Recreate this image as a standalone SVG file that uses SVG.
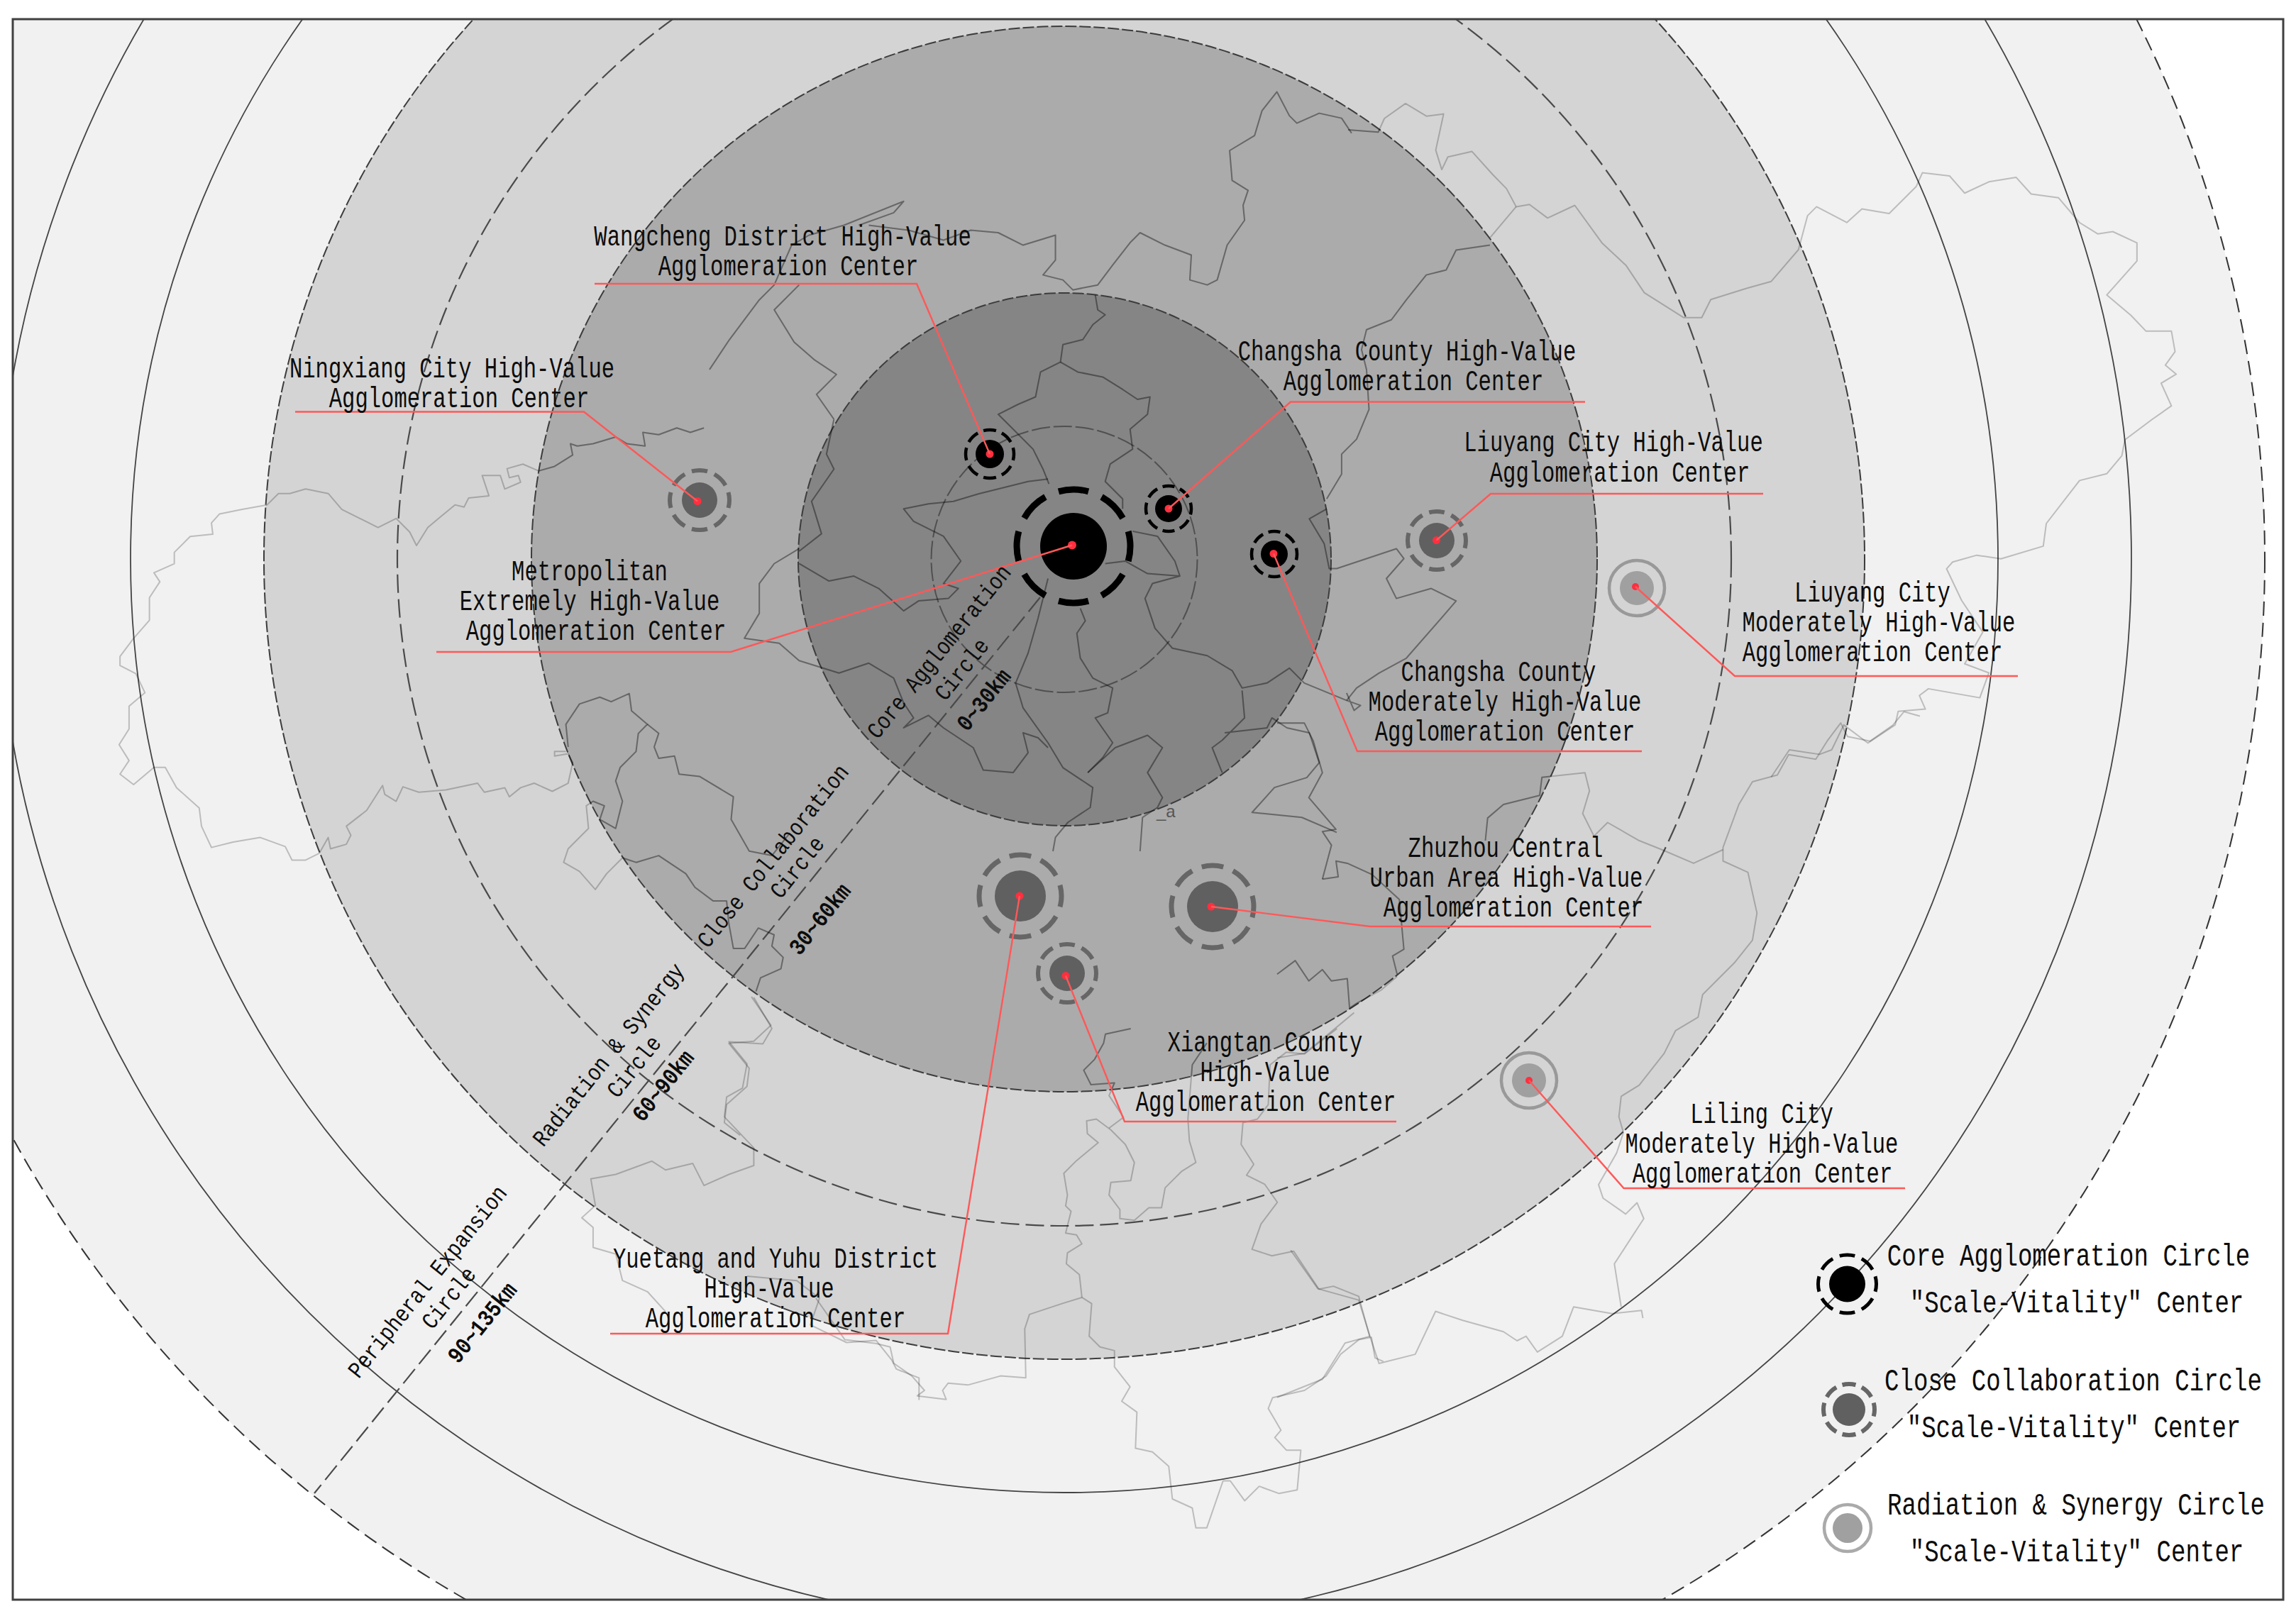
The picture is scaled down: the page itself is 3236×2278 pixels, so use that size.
<svg xmlns="http://www.w3.org/2000/svg" xmlns:xlink="http://www.w3.org/1999/xlink" width="3236" height="2278" viewBox="0 0 3236 2278">
<style>
.edge{stroke:#3c3c3c;stroke-width:2;stroke-dasharray:16 4}
.dash{fill:none;stroke:#4a4a4a;stroke-width:2.2;stroke-dasharray:26 9}
.solid{fill:none;stroke:#444;stroke-width:1.8}
.m{fill:none;stroke:#000;stroke-opacity:.22;stroke-width:2;stroke-linejoin:round;vector-effect:non-scaling-stroke}
.lead{fill:none;stroke:#ff5858;stroke-width:2.4;stroke-linejoin:miter}
.dot{fill:#ff2f3f}
.ring{fill:none;stroke-dashoffset:4.25;stroke-dasharray:8.5 4}
.t{font-family:"Liberation Mono","DejaVu Sans Mono",monospace;font-size:41px;fill:#0c0c0c;text-anchor:middle}
.l{font-family:"Liberation Mono","DejaVu Sans Mono",monospace;font-size:44px;fill:#0c0c0c;text-anchor:middle}
.r{font-family:"Liberation Mono","DejaVu Sans Mono",monospace;font-size:33px;fill:#0c0c0c;text-anchor:middle}
.b{font-weight:bold}
</style>
<defs>
<clipPath id="fr"><rect x="18" y="27" width="3200" height="2228"/></clipPath>
<clipPath id="inner"><circle cx="1500" cy="788" r="751"/></clipPath>
</defs>
<rect width="3236" height="2278" fill="#fff"/>
<g id="rings" clip-path="url(#fr)">
<circle cx="1500" cy="788" r="1692" fill="#f1f1f1" stroke="#333" stroke-width="2" stroke-dasharray="20 10"/>
<circle class="solid" cx="1500" cy="788" r="1504"/>
<circle class="solid" cx="1500" cy="788" r="1316"/>
<circle class="edge" cx="1500" cy="788" r="1128" fill="#d4d4d4"/>
<circle class="dash" cx="1500" cy="788" r="940"/>
<circle class="edge" cx="1500" cy="788" r="751" fill="#ababab"/>
<circle class="edge" cx="1500.500" cy="788.500" r="375.500" fill="#858585"/>
<circle cx="1500" cy="788.500" r="187.500" fill="none" stroke="#505050" stroke-width="2" stroke-dasharray="26 5"/>
<line x1="1466" y1="842" x2="443" y2="2105" stroke="#4a4a4a" stroke-width="2.200" stroke-dasharray="26 9"/>
</g>
<g id="map">
<g transform="translate(1000,100) scale(.7015)">
<path class="m" d="M1290 125L1270 95 1225 85 1180 105 1165 90 1140 42 1110 80 1095 130 1045 160 1050 220 1082 240 1072 270 1075 300 1040 350 1020 420 1000 430 965 420 968 370 915 350 865 325 845 345 810 390 780 430 730 440 710 420 670 410 695 380 695 330 630 350 580 325 525 320 470 340 400 320 320 310"/>
<path class="m" d="M0 600L40 540 100 460 130 430 165 350 200 330 270 310 390 262 370 285 300 310"/>
<path class="m" d="M775 450L780 480 795 490 770 510 750 540 710 550 705 585 665 605 655 655 620 670 580 690 610 720 650 760 670 800 682 830"/>
<path class="m" d="M705 585L740 605 790 615 830 640 860 660 885 655 880 690 845 720 850 760 805 790 795 825 830 860 830 880"/>
<path class="m" d="M680 820L640 825 600 835 540 850 490 865 440 870 390 880 410 905 470 935 505 985 470 1030 500 1040 480 1060 420 1065 390 1085 340 1040 290 1015 240 1025 180 990"/>
<path class="m" d="M680 1020L660 1100 640 1170 615 1230 630 1280 680 1350 710 1400 770 1440 765 1480 720 1510 695 1540 690 1568"/>
<path class="m" d="M745 1080L755 1105 738 1130 745 1180 770 1220 810 1240 800 1290 775 1300 810 1350 790 1380 760 1410"/>
<path class="m" d="M850 925L900 935 935 985 945 1015 880 1010 835 985 795 990M945 1015L890 1030 875 1060 895 1120 930 1160 1000 1175 1050 1205 1070 1240 1120 1230 1165 1200 1195 1230 1280 1265 1308 1275 1295 1285 1280 1250"/>
<path class="m" d="M1070 1245L1075 1300 1050 1325 1030 1345 1010 1360 1030 1410M1035 1330L1120 1320 1130 1300 1160 1320 1205 1330 1225 1390 1200 1420 1135 1440 1090 1490 1190 1500 1260 1530"/>
<path class="m" d="M760 1410L815 1360 880 1335 910 1360 880 1410 910 1460 900 1480 870 1500 865 1568"/>
<path class="m" d="M180 960L130 990 100 1030 100 1090 70 1140 140 1150 180 1185 260 1210 320 1190 370 1220 390 1270 410 1300 390 1320 440 1295 470 1320 500 1340 530 1360 550 1405 610 1410 640 1370 630 1330 660 1340 680 1360"/>
<path class="m" d="M250 700L235 770 250 800 205 865 225 930 180 965M250 700L215 650 255 610 210 580 170 545 130 480 180 430"/>
<path class="m" d="M1568 350L1500 360 1480 400 1440 410 1400 460 1370 500 1320 520 1310 560 1320 600 1325 680 1300 740 1270 770 1270 810 1240 860M1240 880L1205 900 1235 950 1245 1000 1260 1000 1320 980 1380 960 1395 980 1360 1020 1380 1060 1450 1040 1500 1065 1470 1100 1400 1180 1345 1210 1300 1240 1280 1265"/>
</g>
<g transform="translate(150,600) scale(.638)">
<path class="m" d="M1320 5L1290 15 1260 5 1220 20 1185 15 1190 45 1150 40 1125 25 1075 40 1040 45 1025 40 1030 65 990 90 955 100 920 85 885 95 890 115 910 110 915 125 880 140 870 110 830 110 845 155 800 160 790 180 770 175 740 200 710 225 685 265 670 235 640 205 600 225 560 205 520 185 490 150 440 140 405 150 380 150 355 175 300 185 250 195 232 215 235 240 185 245 150 280 150 305 105 325 118 345 95 380 95 430 60 470 30 510 30 530 65 548 85 590 50 620 50 670 28 705 50 740 30 770 60 793 105 755 130 755 155 800 205 845 210 885 232 932 280 920 340 910 395 930 410 960 440 960 470 945 490 910 495 935 530 925 540 905 530 885 575 850 610 795 615 815 640 830 655 798 690 810 750 805 820 790 835 810 880 800 890 820 915 800 945 790 985 808 1020 790 1030 745 1020 725 990 730 990 720 1015 720"/>
<path class="m" d="M1020 710L1015 660 1045 615 1090 600 1115 610 1155 592 1160 630 1195 660 1175 680 1170 720 1135 755 1125 785 1140 830 1125 890 1090 870 1100 840 1075 830 1060 840 1065 890 1020 935 1010 965 1045 985 1080 1025 1105 990 1140 955 1170 965 1220 950 1280 990 1300 1020 1340 1050 1370 1050 1375 1100 1385 1155 1410 1155 1440 1110 1475 1125 1470 1150 1495 1175 1490 1200 1445 1220 1435 1250"/>
<path class="m" d="M1195 660L1220 680 1210 710 1220 735 1255 730 1265 770 1310 775 1385 820 1380 870 1420 940 1470 950 1510 900"/>
<path class="m" d="M1425 1262L1468 1325 1430 1360 1375 1365 1420 1420 1415 1460 1370 1500 1365 1540 1400 1568"/>
</g>
<g transform="translate(300,1300) scale(.638,.6237)">
<path class="m" d="M1195 170L1235 240 1215 275 1140 270 1180 320 1170 375 1135 395 1130 440 1195 510 1195 550 1140 570 1085 595 1060 545 1000 560 970 540 890 570 835 580 845 640 815 668 840 690 840 735 890 750 905 810 960 835 1000 880"/>
<path class="m" d="M1180 800L1290 810 1340 850 1320 910 1400 950 1465 945 1500 990 1510 1010 1560 1030 1560 1080"/>
</g>
<g transform="translate(1150,1450) scale(.51)">
<path class="m" d="M0 745L80 860 165 870 205 880 215 925 265 960 300 1000 280 1015 360 1025 350 1000 365 980 420 985 510 960 580 965 577 830 590 790 680 760 735 743 762 760 755 850 785 880 825 890 825 935 868 990 845 1030 887 1060 883 1160 930 1170 975 1210 985 1300 1040 1325 1050 1380 1080 1380 1125 1250 1145 1250 1185 1305 1225 1265 1280 1285 1330 1275 1340 1165 1300 1165 1268 1130 1285 1110 1250 1050 1262 1020 1350 1000 1410 960 1450 900 1500 860 1535 853 1545 910 1568 920"/>
<path class="m" d="M735 743L728 680 692 650 695 620 735 595 720 570 690 565 705 505 690 490 695 460 685 400 720 365 780 315 750 290 748 255 775 250 815 280 855 320 880 370 870 420 815 425 810 460 840 500 840 525 880 530 920 495 955 495 965 440 1010 395 1050 370 1032 310 1028 250 1040 100 1080 40"/>
<path class="m" d="M870 0L800 15 795 40 770 85 740 115 760 155 825 150 810 185 850 245 810 275"/>
<path class="m" d="M1440 0L1350 70 1300 65 1255 100 1250 210 1220 250 1180 260 1175 320 1210 375 1190 405 1240 430 1275 480 1230 540 1205 610 1260 628 1320 615 1390 720 1430 712 1500 740 1530 850"/>
</g>
<g transform="translate(1800,1000) scale(.638)">
<path class="m" d="M30 1195L90 1280 180 1305 205 1385 225 1445 305 1425 350 1330 410 1350 500 1375 530 1395 550 1385 575 1420 630 1385 655 1320 740 1335 805 1328 808 1345"/>
<path class="m" d="M205 1385L150 1400 100 1480 0 1520"/>
<path class="m" d="M760 1320L745 1225 810 1125 795 1090 770 1115 720 1080 710 1050 750 980 765 935 755 900 760 855 800 830 855 760 880 710 930 680 940 630 1010 560 1050 510 1060 450 1040 360 985 335 985 305 1020 210 1050 160 1105 145 1130 100 1190 110 1215 70 1245 30 1260 60 1310 70 1360 35 1385 5 1420 15"/>
<path class="m" d="M985 310L920 340 850 310 800 290 730 250 700 280 675 230 690 180 680 140 585 150 580 190 500 210 465 240 460 290"/>
<path class="m" d="M100 375L135 370 130 335 155 340 210 365 270 420 280 530 255 545 265 585"/>
<path class="m" d="M0 30L60 30 80 70 100 140 70 195 130 265 100 270 120 300 100 375"/>
<path class="m" d="M0 585L40 555 70 600 100 575 120 600 155 595 160 660 175 650 230 620 265 590"/>
<path class="m" d="M0 770L60 760 110 720 170 670"/>
</g>
<g transform="translate(1900,100) scale(.852,.638)">
<path class="m" d="M0 130L50 135 60 105 95 72 130 100 158 95 145 175 155 218 165 190 205 178 240 230 262 260 278 300 300 295 330 325 375 297 420 380 460 430 490 490 555 545 585 545 600 505 660 480 700 465 745 395 760 320 775 300 825 335 850 305 895 315 940 255 950 225 995 232 1020 270 1060 245 1105 235 1130 272 1175 280 1210 335 1240 360 1265 355 1305 380 1305 420 1255 495 1295 540 1320 575 1362 575 1368 620 1352 650 1370 670 1345 690 1362 740 1330 770 1285 815 1280 850 1255 890 1210 905 1155 1000 1150 1050 1080 1078 1040 1070 1000 1085 990 1100 1015 1170 1050 1240 1020 1310 1060 1330 1045 1385 960 1365 945 1380 955 1410 910 1415 905 1445 860 1485 820 1445 800 1500 780 1510 730 1500 700 1560"/>
<path class="m" d="M278 300L235 368"/>
</g>
</g>
<use xlink:href="#map" href="#map" clip-path="url(#inner)"/>
<text x="1630" y="1152" font-family="Liberation Sans,sans-serif" font-size="24" fill="#555">_a</text>
<g id="nodes">
<g id="node-metropolitan"><circle cx="1513" cy="770" r="47"/><circle class="ring" pathLength="100" cx="1513" cy="770" r="80" stroke="#000" stroke-width="9"/><circle class="dot" cx="1511" cy="768.500" r="6"/></g>
<g id="node-wangcheng"><circle cx="1395" cy="640" r="20"/><circle class="ring" pathLength="100" cx="1395" cy="640" r="34" stroke="#000" stroke-width="4.500"/><circle class="dot" cx="1395" cy="640" r="5.500"/></g>
<g id="node-changsha-high"><circle cx="1647" cy="717" r="19"/><circle class="ring" pathLength="100" cx="1647" cy="717" r="32" stroke="#000" stroke-width="4.500"/><circle class="dot" cx="1647" cy="717" r="5.500"/></g>
<g id="node-changsha-moderate"><circle cx="1796" cy="781" r="19"/><circle class="ring" pathLength="100" cx="1796" cy="781" r="32" stroke="#000" stroke-width="4.500"/><circle class="dot" cx="1795" cy="780.500" r="5.500"/></g>
<g id="node-liuyang-high"><circle cx="2025" cy="762" r="25" fill="#606060"/><circle class="ring" pathLength="100" cx="2025" cy="762" r="41" stroke="#666" stroke-width="6"/><circle class="dot" cx="2024.500" cy="761.500" r="5.500"/></g>
<g id="node-ningxiang"><circle cx="986" cy="705" r="25" fill="#606060"/><circle class="ring" pathLength="100" cx="986" cy="705" r="42" stroke="#666" stroke-width="6"/><circle class="dot" cx="983" cy="706.500" r="5.500"/></g>
<g id="node-yuetang"><circle cx="1438" cy="1263" r="36" fill="#606060"/><circle class="ring" pathLength="100" cx="1438" cy="1263" r="58" stroke="#666" stroke-width="7"/><circle class="dot" cx="1437" cy="1263" r="5.500"/></g>
<g id="node-xiangtan"><circle cx="1504" cy="1372" r="25" fill="#606060"/><circle class="ring" pathLength="100" cx="1504" cy="1372" r="41" stroke="#666" stroke-width="6"/><circle class="dot" cx="1502" cy="1375.500" r="5.500"/></g>
<g id="node-zhuzhou"><circle cx="1709" cy="1278" r="36" fill="#606060"/><circle class="ring" pathLength="100" cx="1709" cy="1278" r="58" stroke="#666" stroke-width="7"/><circle class="dot" cx="1707" cy="1278" r="5.500"/></g>
<g id="node-liuyang-moderate"><circle cx="2307" cy="829" r="24" fill="#a0a0a0"/><circle cx="2307" cy="829" r="39" fill="none" stroke="#999" stroke-width="4.500"/><circle class="dot" cx="2305" cy="827" r="5"/></g>
<g id="node-liling"><circle cx="2155" cy="1523" r="24" fill="#a0a0a0"/><circle cx="2155" cy="1523" r="39" fill="none" stroke="#999" stroke-width="4.500"/><circle class="dot" cx="2155" cy="1523" r="5"/></g>
</g>
<g id="connectors">
<polyline class="lead" points="838,400 1292,400 1395,640"/>
<polyline class="lead" points="416,580.500 823,580.500 983,706.500"/>
<polyline class="lead" points="615,919 1030,919 1511,768.500"/>
<polyline class="lead" points="2234,566.500 1819,566.500 1647,717"/>
<polyline class="lead" points="2485,696 2101,696 2024.500,761.500"/>
<polyline class="lead" points="2844,953 2445,953 2305,827"/>
<polyline class="lead" points="2314,1059 1913,1059 1795,780.500"/>
<polyline class="lead" points="2327,1306 1931,1306 1707,1278"/>
<polyline class="lead" points="1968,1581 1585,1581 1502,1375.500"/>
<polyline class="lead" points="860,1880 1336,1880 1437,1263"/>
<polyline class="lead" points="2685,1675 2288.500,1675 2155,1523"/>
</g>
<g id="labels" transform="translate(0,2)">
<text class="t" transform="translate(1103,344) scale(.745,1)">Wangcheng District High-Value</text>
<text class="t" transform="translate(1111,386) scale(.745,1)">Agglomeration Center</text>
<text class="t" transform="translate(637,530) scale(.745,1)">Ningxiang City High-Value</text>
<text class="t" transform="translate(647,572) scale(.745,1)">Agglomeration Center</text>
<text class="t" transform="translate(831,816) scale(.745,1)">Metropolitan</text>
<text class="t" transform="translate(831,858) scale(.745,1)">Extremely High-Value</text>
<text class="t" transform="translate(840,900) scale(.745,1)">Agglomeration Center</text>
<text class="t" transform="translate(1983,506) scale(.745,1)">Changsha County High-Value</text>
<text class="t" transform="translate(1992,548) scale(.745,1)">Agglomeration Center</text>
<text class="t" transform="translate(2274,634) scale(.745,1)">Liuyang City High-Value</text>
<text class="t" transform="translate(2283,677) scale(.745,1)">Agglomeration Center</text>
<text class="t" transform="translate(2639,846) scale(.745,1)">Liuyang City</text>
<text class="t" transform="translate(2648,888) scale(.745,1)">Moderately High-Value</text>
<text class="t" transform="translate(2639,930) scale(.745,1)">Agglomeration Center</text>
<text class="t" transform="translate(2112,958) scale(.745,1)">Changsha County</text>
<text class="t" transform="translate(2121,1000) scale(.745,1)">Moderately High-Value</text>
<text class="t" transform="translate(2121,1042) scale(.745,1)">Agglomeration Center</text>
<text class="t" transform="translate(2122,1206) scale(.745,1)">Zhuzhou Central</text>
<text class="t" transform="translate(2123,1248) scale(.745,1)">Urban Area High-Value</text>
<text class="t" transform="translate(2133,1290) scale(.745,1)">Agglomeration Center</text>
<text class="t" transform="translate(1783,1480) scale(.745,1)">Xiangtan County</text>
<text class="t" transform="translate(1783,1522) scale(.745,1)">High-Value</text>
<text class="t" transform="translate(1784,1564) scale(.745,1)">Agglomeration Center</text>
<text class="t" transform="translate(1093,1785) scale(.745,1)">Yuetang and Yuhu District</text>
<text class="t" transform="translate(1084,1827) scale(.745,1)">High-Value</text>
<text class="t" transform="translate(1093,1869) scale(.745,1)">Agglomeration Center</text>
<text class="t" transform="translate(2483,1581) scale(.745,1)">Liling City</text>
<text class="t" transform="translate(2483,1623) scale(.745,1)">Moderately High-Value</text>
<text class="t" transform="translate(2484,1665) scale(.745,1)">Agglomeration Center</text>
<text class="r" y="10" transform="translate(1324,917) rotate(-51.25) scale(.85,1)">Core Agglomeration</text>
<text class="r" y="10" transform="translate(1356,942) rotate(-51.25) scale(.85,1)">Circle</text>
<text class="r b" y="10" transform="translate(1387,985) rotate(-51.25) scale(.85,1)">0~30km</text>
<text class="r" y="10" transform="translate(1090,1205) rotate(-51.25) scale(.85,1)">Close Collaboration</text>
<text class="r" y="10" transform="translate(1124,1221) rotate(-51.25) scale(.85,1)">Circle</text>
<text class="r b" y="10" transform="translate(1156,1294) rotate(-51.25) scale(.85,1)">30~60km</text>
<text class="r" y="10" transform="translate(858,1485) rotate(-51.25) scale(.85,1)">Radiation &amp; Synergy</text>
<text class="r" y="10" transform="translate(894,1502) rotate(-51.25) scale(.85,1)">Circle</text>
<text class="r b" y="10" transform="translate(935,1529) rotate(-51.25) scale(.85,1)">60~90km</text>
<text class="r" y="10" transform="translate(603,1805) rotate(-51.25) scale(.85,1)">Peripheral Expansion</text>
<text class="r" y="10" transform="translate(633,1828) rotate(-51.25) scale(.85,1)">Circle</text>
<text class="r b" y="10" transform="translate(680,1863) rotate(-51.25) scale(.85,1)">90~135km</text>
</g>
<g id="legend">
<g id="legend-core"><circle cx="2603.500" cy="1810" r="25.500"/><circle class="ring" pathLength="100" cx="2603.500" cy="1810" r="41" stroke="#000" stroke-width="5"/>
<text class="l" transform="translate(2915.500,1784) scale(.775,1)">Core Agglomeration Circle</text>
<text class="l" transform="translate(2927,1850) scale(.775,1)">"Scale-Vitality" Center</text></g>
<g id="legend-close"><circle cx="2606" cy="1987" r="23" fill="#606060"/><circle class="ring" pathLength="100" cx="2606" cy="1987" r="36" stroke="#666" stroke-width="6"/>
<text class="l" transform="translate(2922,1960) scale(.775,1)">Close Collaboration Circle</text>
<text class="l" transform="translate(2923,2026) scale(.775,1)">"Scale-Vitality" Center</text></g>
<g id="legend-radiation"><circle cx="2604" cy="2154" r="21" fill="#a0a0a0"/><circle cx="2604" cy="2154" r="33" fill="none" stroke="#aaa" stroke-width="4.500"/>
<text class="l" transform="translate(2926,2135) scale(.775,1)">Radiation &amp; Synergy Circle</text>
<text class="l" transform="translate(2927,2201) scale(.775,1)">"Scale-Vitality" Center</text></g>
</g>
<rect id="frame" x="18" y="27" width="3200" height="2228" fill="none" stroke="#404040" stroke-width="3"/>
</svg>
